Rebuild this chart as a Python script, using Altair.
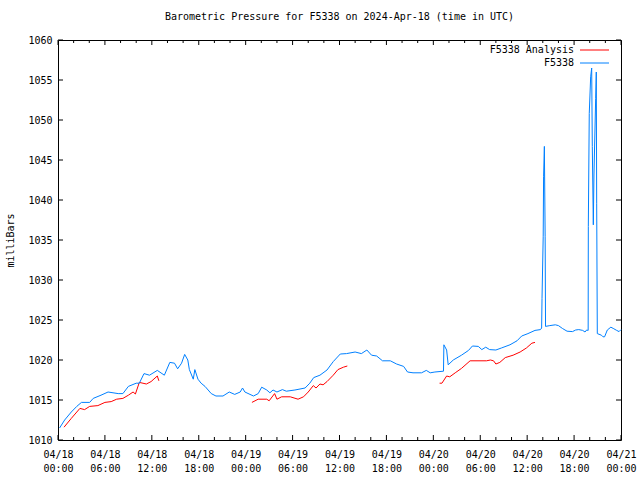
import altair as alt
import pandas as pd

BASE = pd.Timestamp("2024-04-18T00:00:00Z")
MONO = "DejaVu Sans Mono"
BLUE = "#0080ff"
RED = "#ff0000"

# Station F5338 (hours since 2024-04-18 00:00 UTC, millibars)
STATION_HOURS = [0.2, 0.85, 1.7, 2.4, 3.0, 4.05, 4.5, 5.5, 6.4, 7.7, 8.3, 9.0, 10.0, 10.4, 11.0, 11.7,
                 12.7, 13.6, 14.3, 14.9, 15.3, 15.8, 16.2, 16.6, 16.8, 17.3, 17.5, 17.9, 18.3, 18.8,
                 19.6, 20.2, 21.1, 21.9, 22.6, 23.3, 23.6, 23.9, 25.0, 25.6, 26.05, 26.7, 27.1, 27.5,
                 28.0, 28.7, 29.2, 30.3, 31.6, 32.2, 32.7, 33.5, 34.4, 35.2, 36.1, 36.9, 38.0, 38.8,
                 39.5, 40.1, 40.75, 41.5, 42.5, 43.3, 44.2, 44.7, 45.4, 46.5, 47.1, 47.6, 48.2, 49.3,
                 49.35, 49.7, 49.9, 50.55, 51.6, 52.5, 53.0, 53.75, 54.2, 54.7, 55.2, 56.0, 56.7,
                 57.8, 58.7, 59.3, 60.1, 61.0, 61.7, 61.85, 61.9, 62.05, 62.1, 62.2, 62.3, 62.35,
                 62.9, 63.6, 64.0, 64.5, 65.1, 65.8, 66.2, 66.6, 67.1, 67.4, 67.6, 67.8, 67.82,
                 67.94, 68.12, 68.25, 68.33, 68.46, 68.54, 68.76, 68.84, 68.89, 68.97, 69.5, 69.7,
                 69.9, 70.25, 70.7, 71.0, 71.45, 71.75, 72.0]
STATION_MB = [1011.5, 1012.5, 1013.5, 1014.2, 1014.7, 1014.7, 1015.2, 1015.6, 1016.0, 1015.8, 1015.8,
              1016.7, 1017.1, 1017.1, 1018.3, 1018.1, 1018.7, 1018.1, 1019.7, 1019.6, 1018.9, 1019.6,
              1020.7, 1020.0, 1018.8, 1017.6, 1018.8, 1017.6, 1017.1, 1016.7, 1015.8, 1015.5, 1015.5,
              1016.0, 1015.7, 1016.0, 1016.5, 1016.0, 1015.5, 1015.8, 1016.6, 1016.25, 1015.9,
              1016.25, 1016.0, 1016.3, 1016.1, 1016.25, 1016.5, 1017.1, 1017.8, 1018.1, 1018.75,
              1019.8, 1020.75, 1020.8, 1021.0, 1020.8, 1021.25, 1020.6, 1020.5, 1019.9, 1019.9,
              1019.5, 1019.2, 1018.5, 1018.4, 1018.4, 1018.7, 1018.4, 1018.5, 1018.6, 1021.9,
              1021.25, 1019.4, 1020.0, 1020.6, 1021.2, 1021.75, 1021.7, 1021.3, 1021.6, 1021.3,
              1021.25, 1021.5, 1021.9, 1022.4, 1023.0, 1023.3, 1023.7, 1023.8, 1024.0, 1027.7,
              1035.4, 1042.9, 1046.7, 1035.4, 1024.2, 1024.3, 1024.4, 1024.3, 1023.95, 1023.6,
              1023.55, 1023.75, 1023.8, 1023.7, 1023.5, 1023.75, 1023.7, 1036.7, 1050.8, 1055.4,
              1056.5, 1046.7, 1036.9, 1043.0, 1052.7, 1056.0, 1039.6, 1023.3, 1023.1, 1022.9,
              1022.9, 1023.75, 1024.1, 1023.95, 1023.7, 1023.55, 1023.8]

# F5338 Analysis (three separate runs)
ANALYSIS_HOURS_1 = [0.77, 1.7, 2.8, 3.4, 4.05, 5.1, 6.0, 6.8, 7.5, 8.3, 9.0, 9.6, 9.9, 10.4, 11.3, 11.9, 12.7, 12.9]
ANALYSIS_MB_1 = [1011.6, 1012.7, 1013.95, 1013.8, 1014.2, 1014.3, 1014.7, 1014.8, 1015.1, 1015.2, 1015.6,
                 1016.0, 1015.75, 1017.2, 1017.0, 1017.3, 1018.0, 1017.4]
ANALYSIS_HOURS_2 = [24.8, 25.6, 26.7, 27.0, 27.7, 28.0, 28.6, 29.7, 30.7, 31.4, 32.0, 32.65, 33.0, 33.5,
                    33.9, 34.4, 35.2, 35.8, 36.5, 37.0]
ANALYSIS_MB_2 = [1014.7, 1015.1, 1015.1, 1014.9, 1015.8, 1015.1, 1015.4, 1015.4, 1015.1, 1015.4, 1016.0,
                 1016.8, 1016.5, 1017.0, 1016.9, 1017.3, 1018.1, 1018.8, 1019.1, 1019.25]
ANALYSIS_HOURS_3 = [48.8, 49.1, 49.7, 50.1, 50.8, 51.6, 52.7, 54.8, 55.3, 55.7, 56.0, 56.5, 57.2, 58.2,
                    59.1, 59.9, 60.6, 61.0]
ANALYSIS_MB_3 = [1017.1, 1017.1, 1018.0, 1017.9, 1018.4, 1018.95, 1019.9, 1019.9, 1020.0, 1019.9, 1019.5,
                 1019.7, 1020.3, 1020.6, 1021.0, 1021.5, 1022.1, 1022.2]

MAJOR_TICK_HOURS = [0, 6, 12, 18, 24, 30, 36, 42, 48, 54, 60, 66, 72]
MINOR_TICK_HOURS = [2, 4, 8, 10, 14, 16, 20, 22, 26, 28, 32, 34, 38, 40, 44, 46, 50, 52, 56, 58, 62, 64, 68, 70]
Y_TICKS = [1010, 1015, 1020, 1025, 1030, 1035, 1040, 1045, 1050, 1055, 1060]
LEGEND_LABELS = ["F5338 Analysis", "F5338"]

W, H = 563, 400


def to_ms(hours):
    return [int(BASE.value // 10**6 + h * 3600000) for h in hours]


station = pd.DataFrame({"t": to_ms(STATION_HOURS), "p": STATION_MB})
analysis = pd.concat([
    pd.DataFrame({"t": to_ms(ANALYSIS_HOURS_1), "p": ANALYSIS_MB_1, "seg": 1}),
    pd.DataFrame({"t": to_ms(ANALYSIS_HOURS_2), "p": ANALYSIS_MB_2, "seg": 2}),
    pd.DataFrame({"t": to_ms(ANALYSIS_HOURS_3), "p": ANALYSIS_MB_3, "seg": 3}),
])

x_scale = alt.Scale(type="utc", domain=to_ms([0, 72]), nice=False)
y_scale = alt.Scale(domain=[1010, 1060], nice=False, zero=False)

x_axis = alt.Axis(values=to_ms(MAJOR_TICK_HOURS), ticks=False, tickSize=0, domain=False, grid=False,
                  labelExpr="[utcFormat(datum.value, '%m/%d'), utcFormat(datum.value, '%H:%M')]",
                  labelFont=MONO, labelFontSize=10, labelColor="black", labelPadding=9,
                  labelLineHeight=14, labelOverlap=False, labelFlush=False, title=None)
y_axis = alt.Axis(values=Y_TICKS, format="d", ticks=False, tickSize=0, domain=False, grid=False,
                  labelFont=MONO, labelFontSize=10, labelColor="black", labelPadding=6,
                  labelOverlap=False, labelFlush=False,
                  title="milliBars", titleFont=MONO, titleFontSize=10, titleFontWeight="normal",
                  titleColor="black", titleX=-48, titleY=H / 2, titleAngle=-90,
                  titleAlign="center", titleBaseline="middle")

X = alt.X("t:T", scale=x_scale, axis=x_axis)
Y = alt.Y("p:Q", scale=y_scale, axis=y_axis)

red_line = alt.Chart(analysis).mark_line(color=RED, strokeWidth=1).encode(x=X, y=Y, detail="seg:N")
blue_line = alt.Chart(station).mark_line(color=BLUE, strokeWidth=1).encode(x=X, y=Y)

major = pd.DataFrame({"t": to_ms(MAJOR_TICK_HOURS)})
minor = pd.DataFrame({"t": to_ms(MINOR_TICK_HOURS)})
yt = pd.DataFrame({"p": Y_TICKS})
tick_layers = [
    alt.Chart(major).mark_rule(color="black", strokeWidth=1).encode(x=X, y=alt.value(H), y2=alt.value(H - 5)),
    alt.Chart(major).mark_rule(color="black", strokeWidth=1).encode(x=X, y=alt.value(0), y2=alt.value(5)),
    alt.Chart(minor).mark_rule(color="black", strokeWidth=1).encode(x=X, y=alt.value(H), y2=alt.value(H - 3)),
    alt.Chart(minor).mark_rule(color="black", strokeWidth=1).encode(x=X, y=alt.value(0), y2=alt.value(3)),
    alt.Chart(yt).mark_rule(color="black", strokeWidth=1).encode(y=Y, x=alt.value(0), x2=alt.value(5)),
    alt.Chart(yt).mark_rule(color="black", strokeWidth=1).encode(y=Y, x=alt.value(W), x2=alt.value(W - 5)),
]

legend_layers = []
for i, (label, color) in enumerate(zip(LEGEND_LABELS, [RED, BLUE])):
    ypix = 10 + i * 13
    ld = pd.DataFrame({"label": [label]})
    legend_layers.append(
        alt.Chart(ld).mark_text(align="right", baseline="middle", font=MONO, fontSize=10, color="black")
        .encode(text="label:N", x=alt.value(516), y=alt.value(ypix)))
    legend_layers.append(
        alt.Chart(ld).mark_rule(color=color, strokeWidth=1)
        .encode(x=alt.value(522), x2=alt.value(551), y=alt.value(ypix)))

chart = alt.layer(red_line, blue_line, *tick_layers, *legend_layers).properties(
    width=W, height=H,
    title=alt.TitleParams("Barometric Pressure for F5338 on 2024-Apr-18 (time in UTC)",
                          font=MONO, fontSize=10, fontWeight="normal", color="black",
                          anchor="middle", offset=13),
    padding={"left": 58, "top": 40, "right": 19, "bottom": 40},
    autosize=alt.AutoSizeParams(type="none"),
    background="white",
).configure_view(stroke="black", strokeWidth=1)

chart.save("out.html", embed_options={"renderer": "svg", "actions": False})
